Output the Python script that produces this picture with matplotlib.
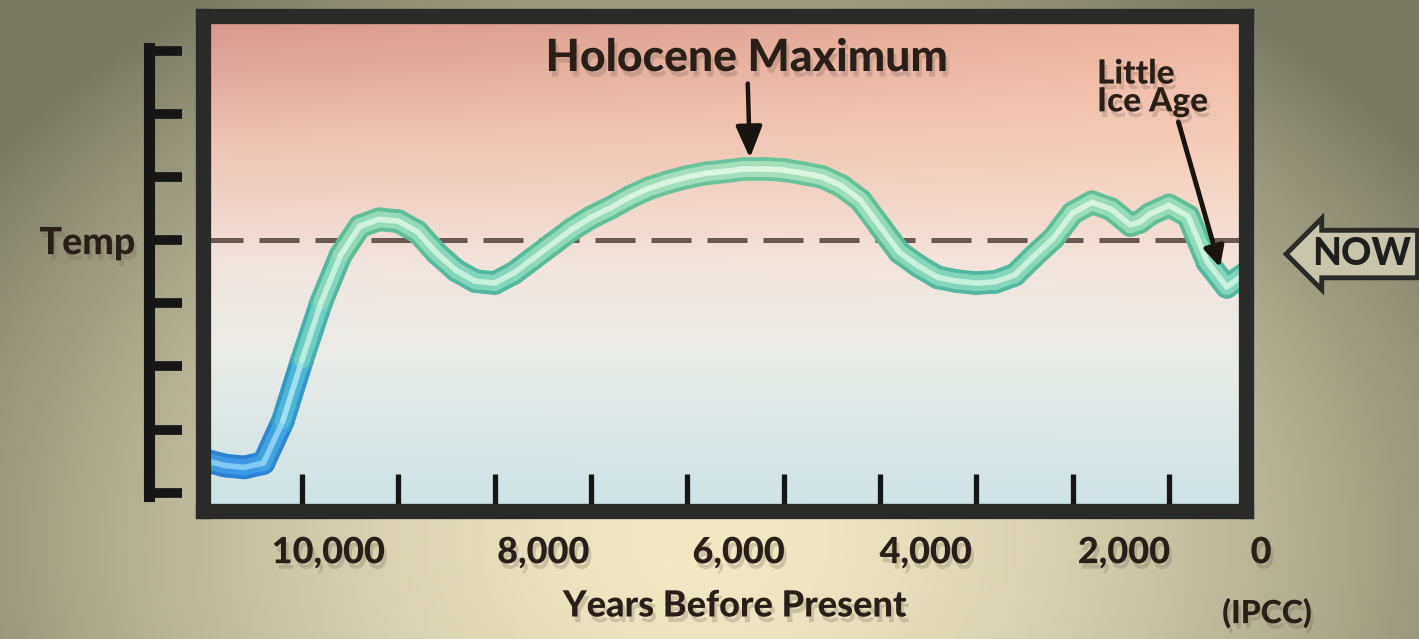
import numpy as np
import matplotlib.pyplot as plt
import matplotlib.patheffects as pe
from matplotlib.collections import LineCollection
from matplotlib.colors import LinearSegmentedColormap, Normalize

# temperature curve (years before present, temp relative to "now")
years = [11000, 10800, 10600, 10400, 10200, 10000, 9800, 9600, 9400, 9200,
         9000, 8800, 8600, 8400, 8200, 8000, 7800, 7600, 7400, 7200,
         7000, 6800, 6600, 6400, 6200, 6000, 5800, 5600, 5400, 5200,
         5000, 4800, 4600, 4400, 4200, 4000, 3800, 3600, 3400, 3200,
         3000, 2800, 2600, 2400, 2200, 2000, 1800, 1600, 1400, 1300,
         1200, 1000, 800, 600, 400, 200]
temp = [-3.49, -3.57, -3.60, -3.53, -2.87, -1.90, -0.98, -0.24, 0.22, 0.33,
        0.30, 0.13, -0.21, -0.48, -0.65, -0.68, -0.52, -0.29, -0.06, 0.17,
        0.36, 0.51, 0.68, 0.82, 0.92, 1.00, 1.06, 1.09, 1.13, 1.13,
        1.11, 1.06, 1.00, 0.86, 0.63, 0.22, -0.19, -0.41, -0.59, -0.65,
        -0.68, -0.66, -0.55, -0.25, 0.03, 0.43, 0.60, 0.49, 0.24, 0.29,
        0.41, 0.55, 0.38, -0.35, -0.74, -0.52]

x_ticks = [10000, 9000, 8000, 7000, 6000, 5000, 4000, 3000, 2000, 1000]
x_label_years = [10000, 8000, 6000, 4000, 2000, 0]
x_labels = ['10,000', '8,000', '6,000', '4,000', '2,000', '0']
ruler_levels = [-4, -3, -2, -1, 0, 1, 2, 3]
ruler_labels = ['', '', '', '', 'Temp', '', '', '']
now_level = 0
holocene_max = (5350, 1.30)
little_ice_age = (470, -0.43)

W, H = 1419, 639
FONT = ['Lato', 'DejaVu Sans']
TXT = '#2a1f18'
WT = 900
plt.rcParams['font.family'] = FONT
shadow = [pe.withSimplePatchShadow(offset=(2, -4), shadow_rgbFace='#6a6050', alpha=0.25)]

fig = plt.figure(figsize=(W / 100, H / 100), dpi=100)

# beige backdrop with darker edges
bg = fig.add_axes([0, 0, 1, 1])
gx, gy = np.meshgrid(np.linspace(0, 1, 300), np.linspace(1, 0, 150))
d = np.clip(np.sqrt(((gx - 0.5) / 0.62) ** 2 + ((gy - 0.15) / 1.05) ** 2), 0, 1) ** 1.6
cream = np.array([242, 233, 196]) / 255
olive = np.array([122, 122, 100]) / 255
bg.imshow(cream * (1 - d[..., None]) + olive * d[..., None], extent=[0, 1, 0, 1], aspect='auto')
bg.axis('off')

# main panel
ax = fig.add_axes([203 / W, 1 - 511 / H, 1043 / W, 495 / H])
xlim = (11028, 200)
ylim = (-4.29, 3.55)

# pink-to-blue panel fill
t = np.linspace(0, 1, 200)[:, None]
s = np.linspace(0, 1, 100)[None, :]
stops = [0.0, 0.25, 0.5, 0.68, 1.0]
left_c = np.array([[214, 150, 138], [238, 194, 178], [241, 228, 222], [234, 236, 232], [204, 226, 229]]) / 255
right_c = np.array([[238, 180, 158], [246, 204, 184], [243, 228, 220], [234, 236, 232], [206, 226, 230]]) / 255
img = np.zeros((200, 100, 3))
for k in range(3):
    lc = np.interp(t[:, 0], stops, left_c[:, k])[:, None]
    rc = np.interp(t[:, 0], stops, right_c[:, k])[:, None]
    img[..., k] = lc * (1 - s) + rc * s
ax.imshow(img, extent=[xlim[0], xlim[1], ylim[0], ylim[1]], aspect='auto', zorder=0)

ax.axhline(now_level, color='#6a5852', lw=3.6, dashes=(8, 3.2), zorder=1)

# curve: blue when cold, mint when warm, with a light core
pts = np.column_stack([years, temp])
segs = np.stack([pts[:-1], pts[1:]], axis=1)
mid = (np.array(temp[:-1]) + np.array(temp[1:])) / 2
norm = Normalize(-3.6, 1.2)
edge_cmap = LinearSegmentedColormap.from_list('e', ['#2a80d2', '#3398c8', '#4cb4a8', '#5cbc98', '#6cc49c'])
body_cmap = LinearSegmentedColormap.from_list('b', ['#3c98e4', '#4cb6d6', '#78d2c0', '#90dab8', '#a6e0bc'])
core_cmap = LinearSegmentedColormap.from_list('c', ['#80c8f4', '#a0e0f0', '#c0f0dc', '#cef2dc', '#dcf6e2'])
for lw, cm, z in [(17, edge_cmap, 3), (11.5, body_cmap, 4), (4, core_cmap, 5)]:
    lcol = LineCollection(segs, colors=cm(norm(mid)), linewidths=lw,
                          capstyle='round', joinstyle='round', zorder=z)
    ax.add_collection(lcol)

ax.set_xlim(*xlim)
ax.set_ylim(*ylim)
ax.set_yticks([])
ax.set_xticks(x_ticks)
ax.tick_params(axis='x', direction='in', length=27, width=3.8, color='#151515', labelbottom=False)
for sp in ax.spines.values():
    sp.set_linewidth(11)
    sp.set_color('#2a2a28')
    sp.set_zorder(6)

# x labels sit a little right of their ticks in the original
label_dx = [19, 35, 37, 33, 37, -3]
for lab, yr, dx in zip(x_labels, x_label_years, label_dx):
    ax.annotate(lab, xy=(yr, 0), xycoords=('data', 'axes fraction'), xytext=(dx, -30),
                textcoords='offset points', ha='center', va='center', fontsize=26,
                fontweight=WT, color=TXT, annotation_clip=False, path_effects=shadow)

fig.text(735 / W, 1 - 606 / H, 'Years Before Present', ha='center', va='center',
         fontsize=26, fontweight=WT, color=TXT, path_effects=shadow)
fig.text(1267 / W, 1 - 613 / H, '(IPCC)', ha='center', va='center',
         fontsize=23, fontweight=WT, color=TXT, path_effects=shadow)

# left temperature ruler
rax = fig.add_axes([149 / W, 1 - 511 / H, 0.0005, 495 / H])
rax.set_ylim(*ylim)
rax.set_xticks([])
rax.set_yticks(ruler_levels)
rax.set_yticklabels(ruler_labels)
rax.tick_params(axis='y', direction='in', length=24, width=7, color='#161616', pad=10,
                labelsize=27, labelcolor=TXT)
for lab in rax.get_yticklabels():
    lab.set_fontweight(WT)
    lab.set_path_effects(shadow)
for name in ['top', 'right', 'bottom']:
    rax.spines[name].set_visible(False)
rax.spines['left'].set_linewidth(8)
rax.spines['left'].set_color('#161616')
rax.spines['left'].set_bounds(-4.05, 3.05)
rax.patch.set_visible(False)

# annotations
ax.annotate('Holocene Maximum', xy=holocene_max, xytext=(747 / W, 1 - 58 / H),
            textcoords='figure fraction', ha='center', va='center', fontsize=32,
            fontweight=WT, color=TXT, zorder=8, path_effects=shadow,
            arrowprops=dict(arrowstyle='-|>,head_length=0.6,head_width=0.25', lw=3.2,
                            color='#1a1410', shrinkA=2, shrinkB=0))
ax.annotate('Little\nIce Age', xy=little_ice_age, xytext=(1097 / W, 1 - 88 / H),
            textcoords='figure fraction', ha='left', va='center', fontsize=24,
            fontweight=WT, color=TXT, linespacing=0.95, zorder=8, path_effects=shadow,
            arrowprops=dict(arrowstyle='-|>,head_length=0.5,head_width=0.25', lw=3.5,
                            color='#1a1410', shrinkA=2, shrinkB=0, relpos=(0.72, 0.0)))

ax.text(1.158, -0.22, 'NOW', transform=ax.get_yaxis_transform(), ha='right', va='center',
        fontsize=27, fontweight=WT, color='#1e1e1e', clip_on=False, zorder=8,
        bbox=dict(boxstyle='larrow,pad=0.18', fc='#c9c5ad', ec='#2a2a28', lw=3.5))

fig.savefig('out.png', dpi=100)
